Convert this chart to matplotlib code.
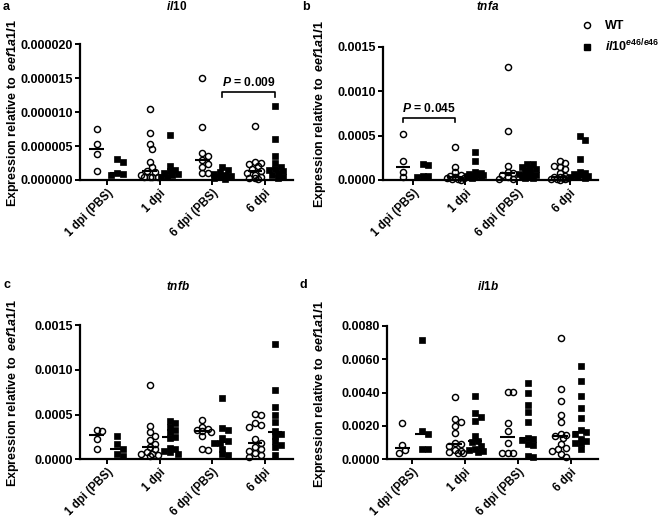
import numpy as np
import matplotlib
matplotlib.use("Agg")
import matplotlib.pyplot as plt
from matplotlib.lines import Line2D

plt.rcParams['font.family'] = ['Liberation Sans', 'DejaVu Sans']
plt.rcParams['font.weight'] = 'bold'
plt.rcParams['mathtext.fontset'] = 'custom'
plt.rcParams['mathtext.it'] = 'Liberation Sans:italic:bold'
plt.rcParams['mathtext.rm'] = 'Liberation Sans:bold'
plt.rcParams['mathtext.bf'] = 'Liberation Sans:bold'

categories = ["1 dpi (PBS)", "1 dpi", "6 dpi (PBS)", "6 dpi"]
genotypes = ["WT", r"$\mathit{il10}^{\mathit{e46/e46}}$"]

# ---- panel a: il10 (values x 1e-6) ----
il10_wt = [
    [7.5, 5.3, 3.9, 1.4],
    [10.5, 6.9, 5.3, 4.6, 2.6, 1.9, 1.3, 1.2, 0.7, 0.5, 0.5, 0.4, 0.4],
    [15.1, 7.8, 4.0, 3.5, 2.9, 2.4, 1.9, 1.0, 1.0],
    [8.0, 2.6, 2.5, 2.3, 2.0, 1.6, 1.3, 1.0, 0.8, 0.4, 0.3, 0.3, 0.2],
]
il10_mut = [
    [3.1, 2.6, 1.0, 0.9, 0.8],
    [6.6, 2.1, 1.5, 1.3, 1.1, 0.9, 0.7, 0.5, 0.4],
    [1.9, 1.5, 1.2, 0.9, 0.75, 0.6, 0.4, 0.3, 0.2],
    [10.9, 6.1, 3.6, 2.5, 1.9, 1.6, 1.5, 1.4, 1.1, 0.8, 0.5, 0.3],
]
# ---- panel b: tnfa (values x 1e-4) ----
tnfa_wt = [
    [5.2, 2.1, 0.9, 0.3],
    [3.7, 1.5, 0.9, 0.6, 0.4, 0.3, 0.25, 0.2, 0.15, 0.1, 0.05],
    [12.7, 5.5, 1.6, 0.9, 0.75, 0.6, 0.3, 0.1, 0.1],
    [2.1, 1.9, 1.6, 1.5, 1.2, 0.8, 0.5, 0.3, 0.3, 0.25, 0.2, 0.15, 0.1, 0.1, 0.05],
]
tnfa_mut = [
    [1.8, 1.7, 0.5, 0.4, 0.3],
    [3.1, 2.1, 0.9, 0.8, 0.7, 0.65, 0.6, 0.5, 0.4, 0.3, 0.2],
    [1.8, 1.8, 1.5, 1.4, 1.2, 1.1, 0.8, 0.7, 0.6, 0.5, 0.4, 0.3, 0.3, 0.2, 0.2],
    [4.9, 4.5, 2.4, 0.9, 0.8, 0.7, 0.6, 0.5, 0.4, 0.3, 0.2],
]
# ---- panel c: tnfb (values x 1e-4) ----
tnfb_wt = [
    [3.3, 3.2, 2.25, 1.16],
    [8.35, 3.75, 3.0, 2.55, 2.2, 1.7, 1.35, 1.1, 0.8, 0.6, 0.6, 0.5, 0.4],
    [4.4, 3.6, 3.4, 3.3, 3.2, 3.0, 2.6, 1.2, 1.0],
    [5.05, 5.0, 4.0, 3.8, 3.6, 2.3, 1.8, 1.4, 1.2, 0.9, 0.7, 0.5, 0.3],
]
tnfb_mut = [
    [2.6, 1.7, 1.2, 0.6, 0.4],
    [4.3, 4.1, 3.6, 3.3, 3.0, 2.5, 2.4, 1.3, 1.1, 0.9, 0.8, 0.6],
    [6.9, 3.5, 3.3, 2.4, 2.0, 1.85, 1.8, 1.2, 0.6, 0.5],
    [12.9, 7.7, 5.8, 4.9, 4.2, 3.2, 2.8, 2.6, 2.0, 1.6, 1.4, 0.5],
]
# ---- panel d: il1b (values x 1e-3) ----
il1b_wt = [
    [2.2, 0.86, 0.55, 0.4],
    [3.75, 2.4, 2.25, 2.0, 1.6, 0.95, 0.9, 0.8, 0.55, 0.5, 0.45, 0.4, 0.35],
    [4.05, 4.05, 2.2, 1.7, 1.0, 0.4, 0.4, 0.4],
    [7.25, 4.2, 3.5, 2.65, 2.25, 1.5, 1.45, 1.4, 1.3, 0.9, 0.7, 0.6, 0.5, 0.3, 0.15],
]
il1b_mut = [
    [7.15, 1.7, 1.5, 0.62, 0.6],
    [3.8, 2.75, 2.55, 2.3, 1.4, 1.1, 1.05, 0.8, 0.6, 0.55, 0.5, 0.45],
    [4.6, 4.0, 3.25, 2.85, 2.25, 1.3, 1.2, 1.15, 0.9, 0.85, 0.2, 0.15],
    [5.6, 4.7, 3.8, 3.1, 2.45, 1.75, 1.62, 1.5, 1.2, 1.1, 1.0, 1.0, 0.62],
]

titles = ["il10", "tnfa", "tnfb", "il1b"]
letters = ["a", "b", "c", "d"]
scales = [1e-6, 1e-4, 1e-4, 1e-3]
ymax = [0.000020, 0.0015, 0.0015, 0.0080]
ystep = [0.000005, 0.0005, 0.0005, 0.0020]
ydec = [6, 4, 4, 4]
# significance annotations: (panel, cat1, geno1, cat2, geno2, y, text)
sig = [
    (0, 2, 1, 3, 1, 0.0000129, "0.009"),
    (1, 0, 0, 1, 0, 0.000695, "0.045"),
]

W, H = 660, 518
fig = plt.figure(figsize=(W / 100, H / 100), dpi=100)

def fx(x):
    return x / W

def fy(y):
    return 1 - y / H

# axes boxes in pixel coordinates: left, right, top, bottom
boxes = [(80, 293, 44.3, 180), (383, 598, 46.7, 180),
         (80, 293, 325, 459.3), (387, 598, 326, 459.3)]
xlims = [(-0.51, 3.53), (-0.57, 3.54), (-0.51, 3.53), (-0.48, 3.52)]
title_pos = [(177, 7), (488, 7), (178, 286), (488, 287)]
letter_pos = [(3, 7), (302, 7), (3, 285), (300, 285)]
ylabel_x = [13, 320, 13, 320]

wt_all = [il10_wt, tnfa_wt, tnfb_wt, il1b_wt]
mut_all = [il10_mut, tnfa_mut, tnfb_mut, il1b_mut]
offset = 0.19
half = 0.14
d_px = 5.6
max_w = 8.5


def swarm(ax, xc, vals):
    vals = np.asarray(vals, float)
    pts = ax.transData.transform(np.column_stack([np.full(len(vals), xc), vals]))
    order = np.argsort(vals)[::-1]
    placed = []
    xs = np.empty(len(vals))
    step = d_px * 0.5
    cands = [0.0]
    k = 1
    while k * step <= max_w + 1e-9:
        cands += [k * step, -k * step]
        k += 1
    for i in order:
        x0, y = pts[i]
        best = None
        best_score = -1
        for c in cands:
            cand = x0 + c
            if placed:
                md = min(np.hypot(cand - px, y - py) for px, py in placed)
            else:
                md = 1e9
            if md >= d_px * 0.95:
                best = cand
                break
            if md > best_score + 0.3:
                best_score = md
                best = cand
        placed.append((best, y))
        xs[i] = best
    return ax.transData.inverted().transform(np.column_stack([xs, pts[:, 1]]))[:, 0]


axes = []
for p in range(4):
    l, r, t, b = boxes[p]
    ax = fig.add_axes([fx(l), fy(b), fx(r - l), (b - t) / H])
    axes.append(ax)
    ax.set_xlim(*xlims[p])
    ax.set_ylim(0, ymax[p])
    for s in ["top", "right"]:
        ax.spines[s].set_visible(False)
    for s in ["left", "bottom"]:
        ax.spines[s].set_linewidth(1.6)
    ax.tick_params(width=1.4, length=3.5, labelsize=9, pad=1.5, direction="out")
    yt = np.arange(0, ymax[p] + ystep[p] / 2, ystep[p])
    ax.set_yticks(yt)
    ax.set_yticklabels([f"{v:.{ydec[p]}f}" for v in yt], fontweight="bold")
    ax.set_xticks(range(len(categories)))
    ax.set_xticklabels(categories, rotation=45, ha="right", rotation_mode="anchor",
                       fontweight="bold", fontsize=8.3)
    for gi, (data, off) in enumerate([(wt_all[p], -offset), (mut_all[p], offset)]):
        for ci, grp in enumerate(data):
            vals = np.array(grp) * scales[p]
            xc = ci + off
            xs = swarm(ax, xc, vals)
            if gi == 0:
                ax.plot(xs, vals, "o", ms=4.4, mfc="none", mec="black", mew=1.05,
                        clip_on=False, zorder=3)
            else:
                ax.plot(xs, vals, "s", ms=4.0, mfc="black", mec="black", mew=0.5,
                        clip_on=False, zorder=3)
            med = np.median(vals)
            ax.plot([xc - half, xc + half], [med, med], color="black", lw=1.5,
                    solid_capstyle="butt", zorder=4)
    fig.text(fx(title_pos[p][0]), fy(title_pos[p][1]), "$\\mathit{" + titles[p] + "}$",
             ha="center", va="center", fontsize=8.5)
    fig.text(fx(letter_pos[p][0]), fy(letter_pos[p][1]), letters[p], ha="left",
             va="center", fontsize=9, fontweight="bold")
    fig.text(fx(ylabel_x[p]), fy((t + b) / 2 + 1), r"Expression relative to  $\mathit{eef1a1l1}$",
             rotation=90, ha="center", va="center", fontsize=9, fontweight="bold")

for (p, c1, g1, c2, g2, y, txt) in sig:
    ax = axes[p]
    x1 = c1 + (offset if g1 else -offset)
    x2 = c2 + (offset if g2 else -offset)
    leg = ymax[p] * 0.03
    ax.plot([x1, x1, x2, x2], [y - leg, y, y, y - leg], color="black", lw=1.2, clip_on=False)
    ax.text((x1 + x2) / 2, y + ymax[p] * 0.025, r"$\mathit{P}$ = " + txt, ha="center",
            va="bottom", fontsize=8.7, fontweight="bold")

handles = [Line2D([], [], ls="none", marker="o", ms=4.4, mfc="none", mec="black", mew=1.05),
           Line2D([], [], ls="none", marker="s", ms=4.0, mfc="black", mec="black")]
fig.legend(handles, genotypes, loc="upper left", bbox_to_anchor=(fx(581), fy(20)),
           frameon=False, handlelength=1.0, handletextpad=0.9,
           labelspacing=0.45, borderpad=0, borderaxespad=0, prop={"weight": "bold", "size": 9})

fig.savefig("out.png", dpi=100)
